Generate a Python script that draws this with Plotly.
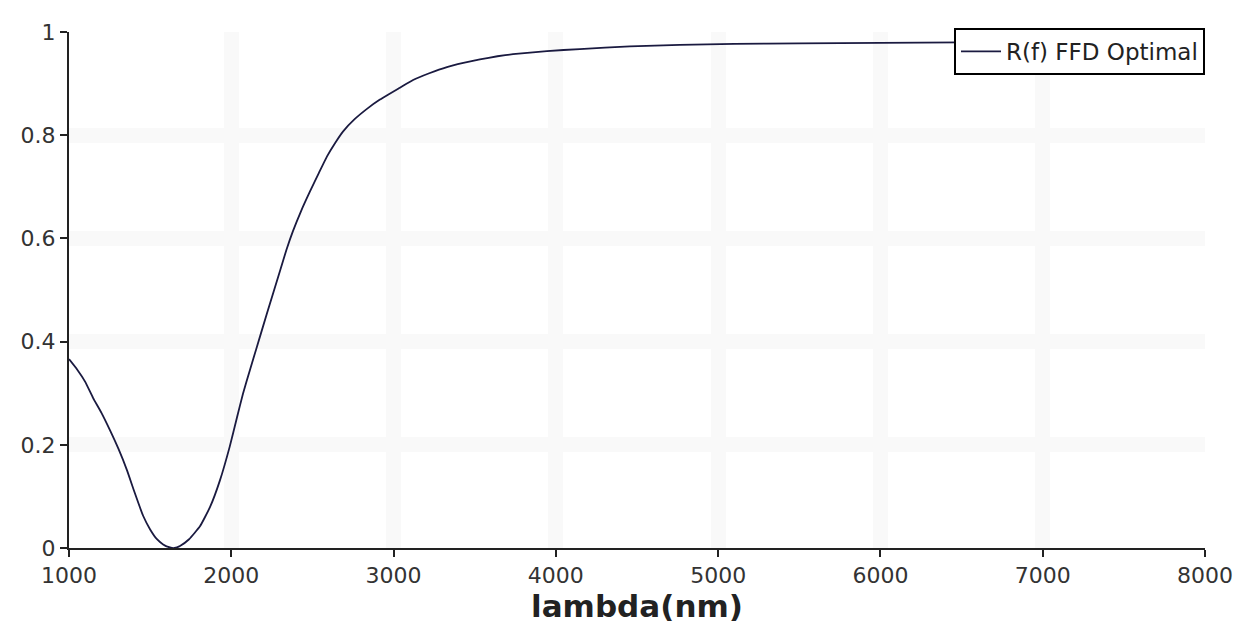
import plotly.graph_objects as go

lambda_nm = [1000, 1050, 1100, 1148, 1200, 1253, 1305, 1357, 1405, 1456, 1500, 1542, 1580, 1622, 1650,
             1684, 1740, 1807, 1870, 1930, 1990, 2035, 2072, 2115, 2158, 2220, 2300, 2340, 2380,
             2430, 2485, 2540, 2590, 2640, 2688, 2760, 2836, 2916, 3039, 3120, 3220, 3329, 3430,
             3532, 3640, 3736, 3945, 4148, 4456, 4764, 5100, 5500, 6000, 6500, 7000, 7500, 8000]
reflectance = [0.366, 0.346, 0.322, 0.291, 0.262, 0.228, 0.192, 0.151, 0.107, 0.063, 0.036, 0.017, 0.007, 0.001, 0.0,
               0.004, 0.017, 0.042, 0.080, 0.131, 0.196, 0.253, 0.299, 0.345, 0.390, 0.455, 0.537, 0.578, 0.614,
               0.653, 0.691, 0.727, 0.759, 0.785, 0.807, 0.831, 0.851, 0.869, 0.892, 0.907, 0.920, 0.932, 0.940,
               0.947, 0.953, 0.957, 0.963, 0.967, 0.972, 0.975, 0.977, 0.978, 0.979, 0.980, 0.980, 0.981, 0.981]

x_ticks = [1000, 2000, 3000, 4000, 5000, 6000, 7000, 8000]
y_ticks = [0, 0.2, 0.4, 0.6, 0.8, 1]
y_tick_labels = ["0", "0.2", "0.4", "0.6", "0.8", "1"]

fig = go.Figure()
fig.add_trace(go.Scatter(
    x=lambda_nm, y=reflectance, mode="lines",
    line=dict(color="#1a1a40", width=1.8, shape="spline", smoothing=0.4),
    name="R(f) FFD Optimal",
))

font_family = "DejaVu Sans, Arial, sans-serif"
fig.update_layout(
    width=1247, height=624,
    margin=dict(l=61, r=50, t=22, b=84),
    paper_bgcolor="white", plot_bgcolor="white",
    showlegend=True,
    legend=dict(
        x=1.0, y=1.008, xanchor="right", yanchor="top",
        bordercolor="black", borderwidth=2, bgcolor="white",
        font=dict(family=font_family, size=23, color="#222"),
        itemwidth=40,
    ),
    font=dict(family=font_family, color="#222"),
)
fig.update_xaxes(
    range=[1000, 8000], tickvals=x_ticks, ticktext=[str(v) for v in x_ticks],
    showline=True, linecolor="#222", linewidth=2, mirror=False,
    ticks="outside", ticklen=7, tickwidth=2, tickcolor="#222",
    tickfont=dict(size=22, family=font_family, color="#333"),
    showgrid=True, gridcolor="#f9f9f9", gridwidth=15, zeroline=False,
    title=dict(text="<b>lambda(nm)</b>", font=dict(size=31, family=font_family, color="#222"), standoff=4),
)
fig.update_yaxes(
    range=[0, 1], tickvals=y_ticks, ticktext=y_tick_labels,
    showline=True, linecolor="#222", linewidth=2, mirror=False,
    ticks="outside", ticklen=7, tickwidth=2, tickcolor="#222",
    tickfont=dict(size=22, family=font_family, color="#333"),
    showgrid=True, gridcolor="#f9f9f9", gridwidth=15, zeroline=False,
)

fig.write_html("out.html")
